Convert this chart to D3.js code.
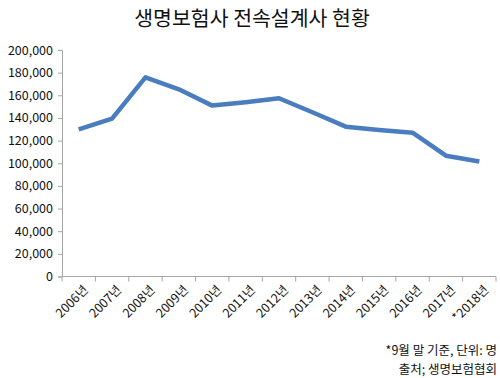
<!DOCTYPE html>
<html>
<head>
<meta charset="utf-8">
<script src="https://cdn.jsdelivr.net/npm/d3@7"></script>
<style>
	body { margin: 0; background: #fff; }
	text { font-family: "Noto Sans CJK KR", "Noto Sans", sans-serif; fill: #111; }
</style>
</head>
<body>
<svg width="500" height="378"></svg>
<script>
	var years = ['2006년', '2007년', '2008년', '2009년', '2010년', '2011년', '2012년',
		'2013년', '2014년', '2015년', '2016년', '2017년', '*2018년']
	var agents = [130000, 139400, 175900, 165300, 150900, 153900, 157400,
		145000, 132300, 129400, 127000, 106700, 101500]
	var yTicks = [0, 20000, 40000, 60000, 80000, 100000, 120000, 140000, 160000, 180000, 200000]
	var title = '생명보험사 전속설계사 현황'
	var notes = ['*9월 말 기준, 단위: 명', '출처; 생명보험협회']

	var svg = d3.select('svg')
	var plotLeft = 62, plotRight = 496, plotTop = 50, plotBottom = 276.5
	var axisColor = '#a6a6a6'

	var x = d3.scaleBand().domain(years).range([plotLeft, plotRight])
	var y = d3.scaleLinear().domain([0, 200000]).range([plotBottom, plotTop])

	svg.append('text')
		.attr('x', 252).attr('y', 26)
		.attr('text-anchor', 'middle')
		.style('font-size', '20.5px')
		.text(title)

	// y axis
	var yAxis = svg.append('g')
		.attr('transform', 'translate(' + plotLeft + ',0)')
		.call(d3.axisLeft(y).tickValues(yTicks).tickSize(4).tickPadding(5)
			.tickFormat(d3.format(',')))
	yAxis.select('.domain').attr('stroke', axisColor)
	yAxis.selectAll('line').attr('stroke', axisColor)
	yAxis.selectAll('text').style('font-size', '12.5px').attr('fill', '#111')

	// x axis, ticks on category boundaries
	var xAxis = svg.append('g')
		.attr('transform', 'translate(0,' + plotBottom + ')')
	xAxis.append('line')
		.attr('x1', plotLeft).attr('x2', plotRight)
		.attr('stroke', axisColor)
	xAxis.selectAll('.tk')
		.data(years.concat(['end']))
		.enter().append('line')
		.attr('x1', function(d, i) { return plotLeft + i * x.step() })
		.attr('x2', function(d, i) { return plotLeft + i * x.step() })
		.attr('y2', 5)
		.attr('stroke', axisColor)
	xAxis.selectAll('.lbl')
		.data(years)
		.enter().append('text')
		.attr('text-anchor', 'end')
		.style('font-size', '12.5px')
		.attr('transform', function(d) {
			return 'translate(' + (x(d) + x.bandwidth() / 2 + 4) + ',8) rotate(-45)'
		})
		.attr('dy', '0.7em')
		.text(function(d) { return d })

	var line = d3.line()
		.x(function(d, i) { return x(years[i]) + x.bandwidth() / 2 })
		.y(function(d) { return y(d) })

	svg.append('path')
		.datum(agents)
		.attr('d', line)
		.attr('fill', 'none')
		.attr('stroke', '#4a7dbf')
		.attr('stroke-width', 4.5)
		.attr('stroke-linejoin', 'round')

	svg.selectAll('.note')
		.data(notes)
		.enter().append('text')
		.attr('x', 497)
		.attr('y', function(d, i) { return 355 + i * 18.5 })
		.attr('text-anchor', 'end')
		.style('font-size', '12.5px')
		.text(function(d) { return d })
</script>
</body>
</html>
